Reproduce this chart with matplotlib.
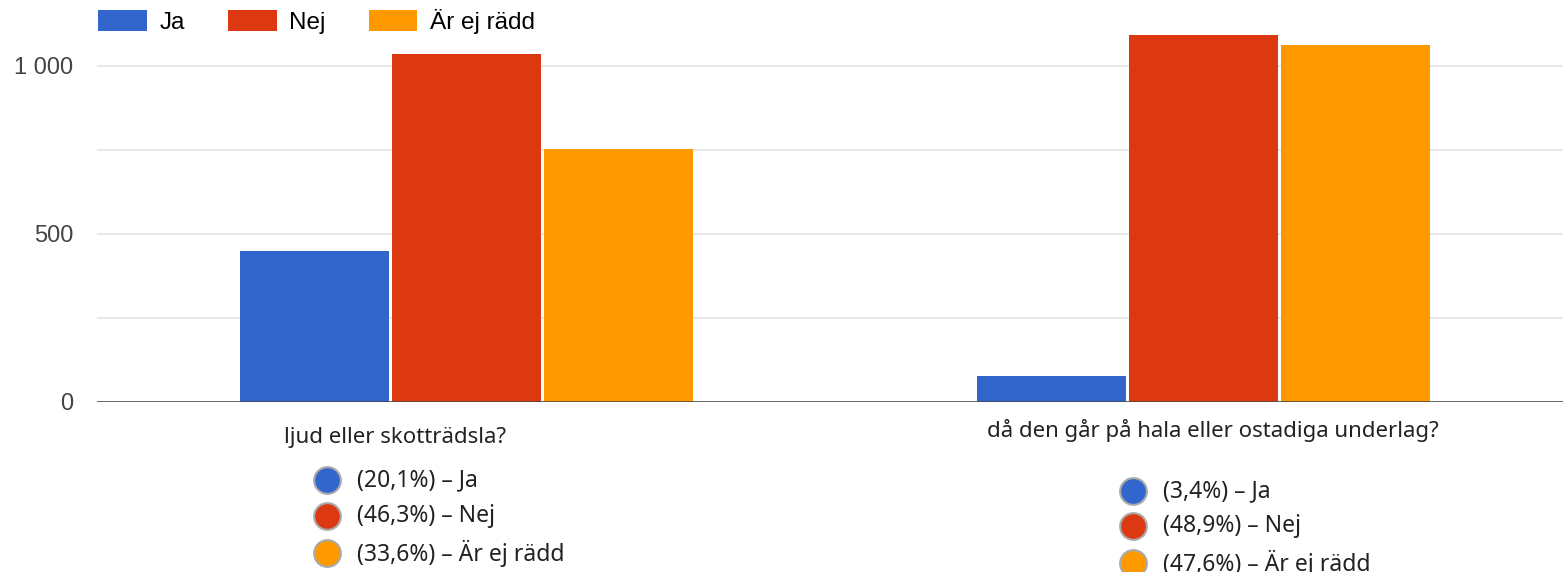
import matplotlib.pyplot as plt
import numpy as np

# svar per fråga
questions = ['ljud eller skotträdsla?', 'då den går på hala eller ostadiga underlag?']
answers = ['Ja', 'Nej', 'Är ej rädd']
ja = [449, 76]
nej = [1035, 1092]
ej_radd = [752, 1062]
shares = [['20,1', '46,3', '33,6'], ['3,4', '48,9', '47,6']]
ytick_vals = [0, 500, 1000]
ytick_labels = ['0', '500', '1 000']

colors = ['#3366cc', '#dc3912', '#ff9900']

W, H = 1563, 572
fig = plt.figure(figsize=(W / 100, H / 100), dpi=100)

# diagramytan i pixlar
ax = fig.add_axes([97 / W, 1 - 401.5 / H, 1 - 97 / W, (401.5 - 15) / H])

x = np.arange(len(questions))
step = 152 / 737
bw = 149.5 / 737
for i, (vals, col, lab) in enumerate(zip([ja, nej, ej_radd], colors, answers)):
    ax.bar(x + (i - 1) * step, vals, bw, color=col, label=lab, zorder=3)

ax.set_xlim(-0.5014, 1.4878)
ax.set_ylim(0, 1152)
ax.set_yticks(ytick_vals)
ax.set_yticklabels(ytick_labels)
ax.set_yticks([250, 750], minor=True)
ax.set_xticks([])
ax.grid(axis='y', which='both', color='#e3e3e3', linewidth=1.2, zorder=0)
ax.axhline(0, color='#444444', linewidth=1.8, zorder=4)
for s in ax.spines.values():
    s.set_visible(False)
ax.tick_params(axis='y', which='both', length=0, pad=17, labelsize=17,
               labelcolor='#444444')
for t in ax.get_yticklabels():
    t.set_fontfamily('Liberation Sans')

ax.legend(loc='upper left', bbox_to_anchor=(98 / W, 1 - 9 / H),
          bbox_transform=fig.transFigure, ncol=3, frameon=False,
          borderpad=0, borderaxespad=0, handlelength=2.0, handleheight=0.95,
          handletextpad=0.53, columnspacing=1.77,
          prop={'family': 'Liberation Sans', 'size': 17.5})

# frågetexter och procentandelar under staplarna
ov = fig.add_axes([0, 0, 1, 1], zorder=5)
ov.set_xlim(0, W)
ov.set_ylim(H, 0)
ov.axis('off')

label_pos = [(395, 437), (1213, 430)]
dot_x = [327, 1133]
dot_y = [[480, 516, 553], [491, 526, 563]]
for q, (lx, ly), dx, dys, sh in zip(questions, label_pos, dot_x, dot_y, shares):
    ov.text(lx, ly, q, ha='center', va='center', fontsize=16,
            family='Noto Sans', color='#222222')
    for dy, col, ans, p in zip(dys, colors, answers, sh):
        ov.scatter([dx], [dy], s=370, color=col, edgecolors='#aaaaaa',
                   linewidths=1.5, clip_on=False)
        ov.text(dx + 30, dy, f'({p}%) – {ans}', ha='left', va='center',
                fontsize=16.5, family='Noto Sans', color='#222222')

fig.savefig('out.png', dpi=100)
